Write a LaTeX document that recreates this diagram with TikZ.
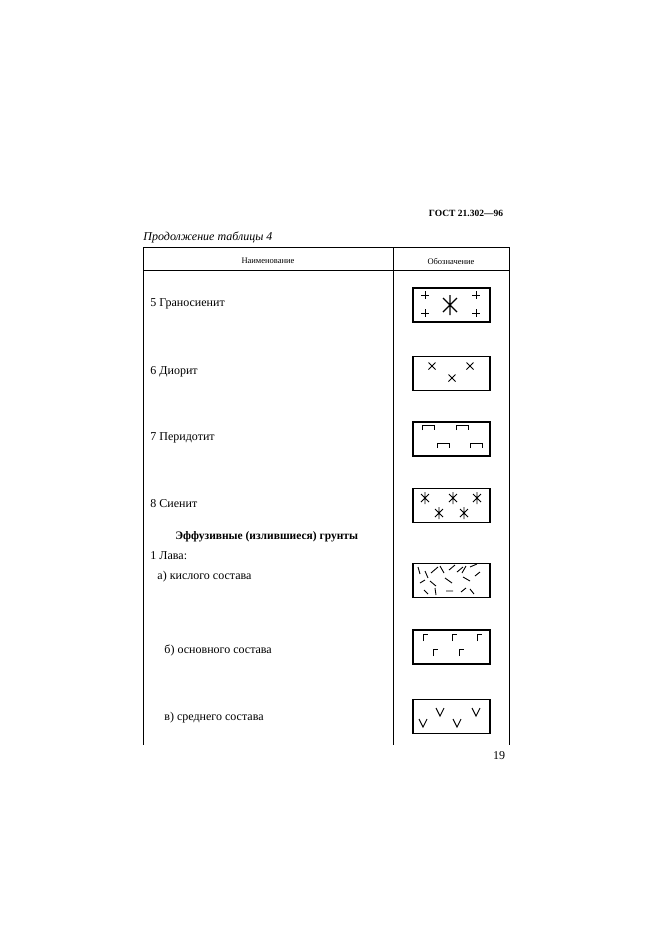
\documentclass[tikz,border=0pt]{standalone}
\usepackage{fontspec}
\setmainfont{Liberation Serif}
\begin{document}
\begin{tikzpicture}[x=1pt,y=-1pt,line width=0.9pt,
  lbl/.style={anchor=west,font=\fontsize{12}{13}\selectfont,inner sep=0},
  hdr/.style={font=\fontsize{8.5}{9}\selectfont,inner sep=0},
  sym/.style={draw,line width=1.1pt,minimum width=77pt,minimum height=34pt,inner sep=0}]
\useasboundingbox (0,0) rectangle (661,935);
\fill[white] (0,0) rectangle (661,935);
\node[font=\bfseries\fontsize{9.5}{10}\selectfont,inner sep=0] (gost) at (466,213) {ГОСТ 21.302—96};
\node[anchor=west,font=\itshape\fontsize{12}{13}\selectfont,inner sep=0] (cont) at (143,237) {Продолжение таблицы 4};
\draw (143,247) -- (509,247) (143,270) -- (509,270);
\draw (143,247) -- (143,745) (393,247) -- (393,745) (509,247) -- (509,745);
\node[hdr] (h1) at (268,261) {Наименование};
\node[hdr] (h2) at (451,261) {Обозначение};
\node[lbl] (t1) at (150,304) {5 Граносиенит};
\node[lbl] (t2) at (150,372) {6 Диорит};
\node[lbl] (t3) at (150,438) {7 Перидотит};
\node[lbl] (t4) at (150,504) {8 Сиенит};
\node[lbl,font=\bfseries\fontsize{11.5}{13}\selectfont] (t5) at (175,537) {Эффузивные (излившиеся) грунты};
\node[lbl] (t6) at (150,556) {1 Лава:};
\node[lbl] (t7) at (157,577) {а) кислого состава};
\node[lbl] (t8) at (164,650) {б) основного состава};
\node[lbl] (t9) at (164,718) {в) среднего состава};
\node[font=\fontsize{12}{13}\selectfont,inner sep=0] (pg) at (499,756) {19};
% boxes
\node[sym] (b1) at (451.5,305) {};
\node[sym] (b2) at (451.5,373.5) {};
\node[sym] (b3) at (451.5,439) {};
\node[sym] (b4) at (451.5,505.5) {};
\node[sym] (b5) at (451.5,580.5) {};
\node[sym] (b6) at (451.5,647) {};
\node[sym] (b7) at (451.5,716.5) {};
% box1
\foreach \p in {(425,295),(476,295),(425,313),(476,313)}
  \draw[shift={\p}] (-4,0)--(4,0) (0,-4)--(0,4);
\draw[shift={(450,305)},line width=1.2pt] (0,-10)--(0,10) (-7,-7)--(7,7) (7,-7)--(-7,7);
% box2
\foreach \p in {(432,366),(470,366),(452,378)}
  \draw[shift={\p}] (-3.5,-3.5)--(3.5,3.5) (3.5,-3.5)--(-3.5,3.5);
% box3
\foreach \p in {(422,430),(456,430),(437,448),(470,448)}
  \draw[shift={\p}] (0,0)--(0,-5)--(12,-5)--(12,0);
% box4
\foreach \p in {(425,498),(453,498),(477,498),(439,513),(464,513)}
  \draw[shift={\p}] (0,-6)--(0,6) (-4,-4)--(4,4) (4,-4)--(-4,4);
% box5 acid lava
\draw (418,567)--(420,574) (425,571)--(428,578) (431,573)--(438,567) (440,566)--(444,573)
  (449,570)--(455,565) (457,572)--(463,567) (466,566)--(462,573) (470,567)--(477,564)
  (420,583)--(425,580) (430,581)--(436,586) (445,578)--(452,583) (463,577)--(470,581)
  (475,576)--(480,572) (424,590)--(428,594) (435,588)--(436,595) (446,591)--(453,591)
  (461,592)--(466,588) (470,589)--(474,594);
% box6 basic lava
\foreach \p in {(423,641),(452,641),(477,641),(433,656),(459,656)}
  \draw[shift={\p}] (0,0)--(0,-7)--(5,-7);
% box7 middle lava
\foreach \p in {(440,712),(476,712),(423,723),(457,723)}
  \draw[shift={\p}] (-4,-4)--(0,4)--(4,-4);
\end{tikzpicture}
\end{document}
